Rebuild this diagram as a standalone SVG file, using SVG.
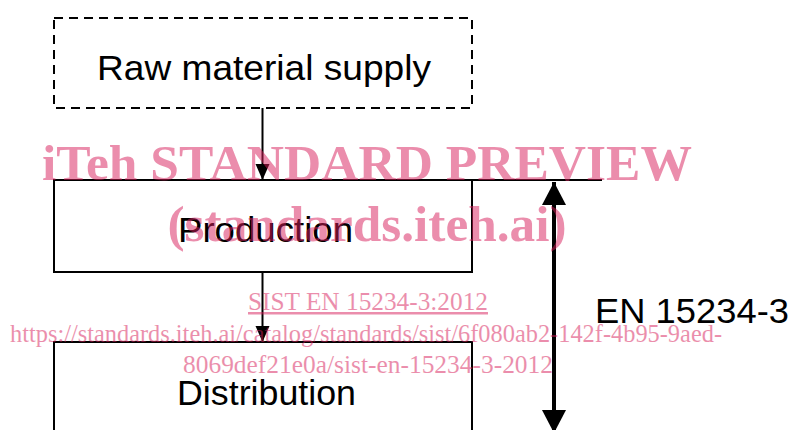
<svg xmlns="http://www.w3.org/2000/svg" width="793" height="430" viewBox="0 0 793 430">
  <style>
    .box { fill: none; stroke: #000; stroke-width: 2; }
    .dashed { stroke-dasharray: 9 6; }
    .lbl { font-family: "Liberation Sans", Arial, sans-serif; font-size: 35px; fill: #000; text-anchor: start; }
    .thin { stroke: #000; stroke-width: 2; fill: none; }
    .thick { stroke: #000; stroke-width: 4; fill: none; }
    .wm { font-family: "Liberation Serif", "Times New Roman", serif; fill: #d81e5b; opacity: 0.5; }
    .wmb { font-weight: bold; font-size: 50px; }
    .wms { font-size: 25px; }
  </style>
  <defs>
    <marker id="ah" markerUnits="userSpaceOnUse" markerWidth="16" markerHeight="18" refX="16" refY="7" orient="auto">
      <path d="M0,0 L16,7 L0,14 Z" fill="#000"/>
    </marker>
    <marker id="bh" markerUnits="userSpaceOnUse" markerWidth="24" markerHeight="24" refX="23" refY="12" orient="auto-start-reverse">
      <path d="M0,0 L23,12 L0,24 Z" fill="#000"/>
    </marker>
  </defs>
  <rect width="793" height="430" fill="#fff"/>

  <g id="raw">
    <rect class="box dashed" x="54" y="18" width="418" height="90"/>
    <text class="lbl" x="97" y="80" textLength="334" lengthAdjust="spacingAndGlyphs">Raw material supply</text>
  </g>
  <g id="production">
    <rect class="box" x="54" y="180" width="418" height="92"/>
    <text class="lbl" x="178" y="242" textLength="175" lengthAdjust="spacingAndGlyphs">Production</text>
  </g>
  <g id="distribution">
    <rect class="box" x="54" y="342" width="418" height="100"/>
    <text class="lbl" x="177" y="405" textLength="179" lengthAdjust="spacingAndGlyphs">Distribution</text>
  </g>
  <g id="scope-label">
    <text class="lbl" x="595" y="323" textLength="194" lengthAdjust="spacingAndGlyphs">EN 15234-3</text>
  </g>

  <g id="connectors">
    <line class="thin" x1="262.5" y1="108" x2="262.5" y2="180" marker-end="url(#ah)"/>
    <line class="thin" x1="262.5" y1="272" x2="262.5" y2="342" marker-end="url(#ah)"/>
    <line class="box" x1="472" y1="180" x2="602" y2="180"/>
    <line class="thick" x1="554" y1="182" x2="554" y2="433" marker-start="url(#bh)" marker-end="url(#bh)"/>
  </g>

  <g id="watermark">
    <text class="wm wmb" x="367" y="180" text-anchor="middle" textLength="650" lengthAdjust="spacingAndGlyphs">iTeh STANDARD PREVIEW</text>
    <text class="wm wmb" x="367" y="241" text-anchor="middle" textLength="399" lengthAdjust="spacingAndGlyphs">(standards.iteh.ai)</text>
    <text class="wm wms" x="368" y="310" text-anchor="middle" textLength="240" lengthAdjust="spacingAndGlyphs" text-decoration="underline">SIST EN 15234-3:2012</text>
    <text class="wm wms" x="366" y="342" text-anchor="middle" textLength="712" lengthAdjust="spacingAndGlyphs">https://standards.iteh.ai/catalog/standards/sist/6f080ab2-142f-4b95-9aed-</text>
    <text class="wm wms" x="368" y="373" text-anchor="middle" textLength="370" lengthAdjust="spacingAndGlyphs">8069def21e0a/sist-en-15234-3-2012</text>
  </g>
</svg>
